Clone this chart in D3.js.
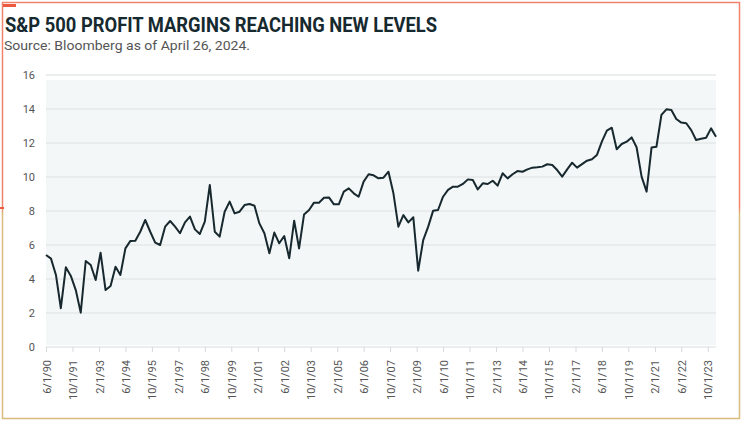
<!DOCTYPE html>
<html>
<head>
<meta charset="utf-8">
<script src="https://cdn.jsdelivr.net/npm/d3@7"></script>
<style>
  html, body { margin: 0; padding: 0; background: #fff; }
  svg { display: block; }
</style>
</head>
<body>
<svg id="chart" width="743" height="423"></svg>
<script>
// ---- data ----
const titleText = "S&P 500 PROFIT MARGINS REACHING NEW LEVELS";
const subtitleText = "Source: Bloomberg as of April 26, 2024.";
const startDate = "6/1/90";          // first observation, quarterly thereafter
const endDate = "3/1/24";            // last observation
const margins = [
  5.41, 5.2, 4.24, 2.28, 4.69, 4.18, 3.35, 2.02, 5.06, 4.82,
  3.94, 5.55, 3.35, 3.59, 4.72, 4.24, 5.8, 6.24, 6.25, 6.78,
  7.47, 6.78, 6.14, 6.0, 7.08, 7.41, 7.08, 6.69, 7.33, 7.67,
  6.92, 6.65, 7.37, 9.53, 6.78, 6.49, 7.96, 8.55, 7.86, 7.96,
  8.35, 8.41, 8.31, 7.27, 6.69, 5.51, 6.73, 6.1, 6.53, 5.22,
  7.43, 5.8, 7.8, 8.06, 8.49, 8.49, 8.78, 8.8, 8.39, 8.39,
  9.14, 9.33, 9.04, 8.84, 9.73, 10.16, 10.1, 9.92, 9.96, 10.31,
  9.04, 7.08, 7.76, 7.33, 7.63, 4.49, 6.29, 7.08, 8.02, 8.06,
  8.84, 9.24, 9.43, 9.43, 9.59, 9.86, 9.82, 9.27, 9.63, 9.59,
  9.78, 9.49, 10.22, 9.92, 10.16, 10.35, 10.31, 10.45, 10.55, 10.57,
  10.61, 10.75, 10.71, 10.41, 10.02, 10.45, 10.84, 10.55, 10.76, 10.96,
  11.04, 11.29, 12.08, 12.73, 12.9, 11.63, 11.94, 12.08, 12.33, 11.75,
  10.02, 9.14, 11.73, 11.78, 13.65, 13.98, 13.94, 13.41, 13.2, 13.16,
  12.76, 12.18, 12.25, 12.31, 12.86, 12.37
];
const yTicks = [0, 2, 4, 6, 8, 10, 12, 14, 16];
const xTickLabels = [
  "6/1/90", "10/1/91", "2/1/93", "6/1/94", "10/1/95", "2/1/97", "6/1/98",
  "10/1/99", "2/1/01", "6/1/02", "10/1/03", "2/1/05", "6/1/06", "10/1/07",
  "2/1/09", "6/1/10", "10/1/11", "2/1/13", "6/1/14", "10/1/15", "2/1/17",
  "6/1/18", "10/1/19", "2/1/21", "6/1/22", "10/1/23"
];

// ---- setup ----
const parse = d3.timeParse("%m/%d/%y");
const t0 = parse(startDate);
const series = margins.map((v, i) => ({ date: d3.timeMonth.offset(t0, 3 * i), value: v }));

const svg = d3.select("#chart");
const plot = { left: 46, right: 716, top: 75, bottom: 347 };

const x = d3.scaleTime().domain([t0, parse(endDate)]).range([plot.left, plot.right]);
const y = d3.scaleLinear().domain([0, 16]).range([plot.bottom, plot.top]);

// ---- frame ----
const defs = svg.append("defs");
const grad = defs.append("linearGradient").attr("id", "frameGrad")
  .attr("x1", 0).attr("y1", 0).attr("x2", 0).attr("y2", 1);
grad.append("stop").attr("offset", "0%").attr("stop-color", "#f3826d");
grad.append("stop").attr("offset", "49%").attr("stop-color", "#f3826d");
grad.append("stop").attr("offset", "51%").attr("stop-color", "#d8bc7a");
grad.append("stop").attr("offset", "100%").attr("stop-color", "#d8bc7a");
svg.append("rect").attr("x", 2.5).attr("y", 2.5).attr("width", 737).attr("height", 416)
  .attr("fill", "none").attr("stroke", "url(#frameGrad)").attr("stroke-width", 1.5);
svg.append("rect").attr("x", 3).attr("y", 4).attr("width", 13).attr("height", 3).attr("fill", "#ec5a42");
svg.append("rect").attr("x", 0).attr("y", 207).attr("width", 4).attr("height", 2).attr("fill", "#ec5a42");

// ---- titles ----
svg.append("text").attr("x", 5).attr("y", 32)
  .attr("font-family", "Roboto, 'Liberation Sans', sans-serif")
  .attr("font-weight", 700).attr("font-size", 19.5)
  .attr("textLength", 432).attr("lengthAdjust", "spacingAndGlyphs")
  .attr("fill", "#16292f").text(titleText);
svg.append("text").attr("x", 4).attr("y", 49.5)
  .attr("font-family", "Roboto, 'Liberation Sans', sans-serif")
  .attr("font-size", 13.6).attr("textLength", 246).attr("lengthAdjust", "spacingAndGlyphs")
  .attr("fill", "#555").text(subtitleText);

// ---- plot background & grid ----
svg.append("rect").attr("x", plot.left).attr("y", 80)
  .attr("width", plot.right - plot.left).attr("height", 345 - 80)
  .attr("fill", "#f3f7f8");

svg.append("g").selectAll("line").data(yTicks).join("line")
  .attr("x1", plot.left).attr("x2", plot.right)
  .attr("y1", d => y(d)).attr("y2", d => y(d))
  .attr("stroke", "#e4e8ea").attr("stroke-width", 1.5);

// ---- y axis ----
const yAxis = d3.axisLeft(y).tickValues(yTicks).tickSize(0).tickPadding(0);
const gy = svg.append("g").attr("transform", `translate(${plot.left - 11},0)`).call(yAxis);
gy.select(".domain").remove();
gy.selectAll("text").attr("font-family", "Roboto, 'Liberation Sans', sans-serif")
  .attr("font-size", 11).attr("fill", "#555");

// ---- x axis ----
const xTicks = xTickLabels.map(parse);
const xAxis = d3.axisBottom(x).tickValues(xTicks).tickSize(5).tickPadding(0)
  .tickFormat((d, i) => xTickLabels[i]);
const gx = svg.append("g").attr("transform", `translate(0,${plot.bottom})`).call(xAxis);
gx.select(".domain").remove();
gx.selectAll(".tick line").attr("stroke", "#d5d9db").attr("stroke-width", 1);
gx.selectAll("text")
  .attr("font-family", "Roboto, 'Liberation Sans', sans-serif")
  .attr("font-size", 11).attr("fill", "#555")
  .attr("text-anchor", "end")
  .attr("transform", "translate(4,13) rotate(-90)")
  .attr("dy", 0).attr("y", 0).attr("x", 0);

// ---- line ----
const line = d3.line().x(d => x(d.date)).y(d => y(d.value));
svg.append("path").datum(series)
  .attr("fill", "none").attr("stroke", "#17282e").attr("stroke-width", 2)
  .attr("stroke-linejoin", "round").attr("d", line);
</script>
</body>
</html>
